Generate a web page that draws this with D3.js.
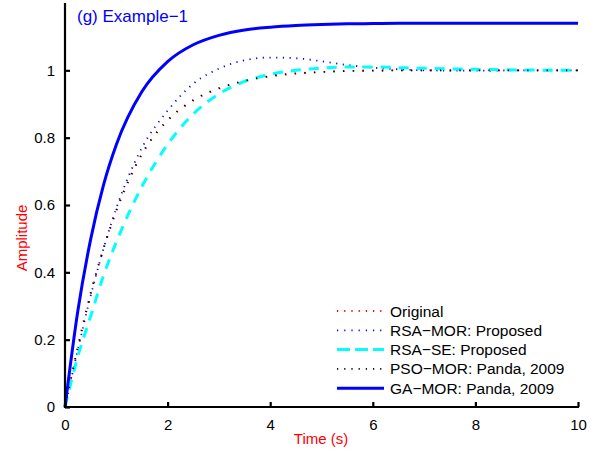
<!DOCTYPE html>
<html>
<head>
<meta charset="utf-8">
<script src="https://cdn.jsdelivr.net/npm/d3@7"></script>
<style>
body{margin:0;background:#fff;}
text{font-family:"Liberation Sans",Arial,sans-serif;}
</style>
</head>
<body>
<svg id="chart" width="599" height="457"></svg>
<script>
// time samples (s) and step responses
var timeS      = [0,0.25,0.5,0.75,1,1.5,2,2.5,3,3.5,4,4.5,5,5.5,6,6.5,7,8,9,10];
var original   = [0,0.18,0.34,0.47,0.58,0.75,0.85,0.91,0.945,0.968,0.982,0.99,0.995,0.998,0.999,1,1,1,1,1];
var rsaMor     = [0,0.17,0.33,0.47,0.59,0.77,0.88,0.96,1.005,1.03,1.038,1.036,1.027,1.016,1.008,1.003,1.0,0.999,1,1];
var rsaSe      = [0,0.15,0.27,0.39,0.49,0.655,0.78,0.87,0.93,0.967,0.988,1.0,1.007,1.01,1.01,1.008,1.006,1.003,1.001,1.0];
var psoMor     = [0,0.175,0.335,0.47,0.585,0.752,0.852,0.912,0.947,0.969,0.983,0.991,0.995,0.998,0.999,1,1,1,1,1];
var gaMor      = [0,0.285,0.498,0.659,0.779,0.937,1.026,1.076,1.104,1.12,1.128,1.133,1.136,1.138,1.139,1.14,1.14,1.14,1.14,1.14];

var seriesNames = ["Original","RSA\u2212MOR: Proposed","RSA\u2212SE: Proposed","PSO\u2212MOR: Panda, 2009","GA\u2212MOR: Panda, 2009"];
var xTicks = [0,2,4,6,8,10];
var yTicks = [0,0.2,0.4,0.6,0.8,1];

var styles = [
	{color:"#ff0000", width:1.8, dash:"1.2,8.5"},
	{color:"#0000ff", width:1.8, dash:"1.2,5.5"},
	{color:"#00ffff", width:3,   dash:"10,8"},
	{color:"#000000", width:1.8, dash:"1.2,8.5"},
	{color:"#0000ff", width:3,   dash:null}
];
var allSeries=[original,rsaMor,rsaSe,psoMor,gaMor];

var svg=d3.select("#chart");
var x=d3.scaleLinear().domain([0,10]).range([65,578]);
var y=d3.scaleLinear().domain([0,1.2]).range([407,3]);

var line=d3.line()
	.x(function(d){return x(d[0]);})
	.y(function(d){return y(d[1]);})
	.curve(d3.curveMonotoneX);

//curves
var gc=svg.append("g").attr("class","curves");
allSeries.forEach(function(vals,i)
{
	var pts=timeS.map(function(t,k){return [t,vals[k]];});
	var p=gc.append("path").attr("d",line(pts))
		.attr("fill","none")
		.attr("stroke",styles[i].color)
		.attr("stroke-width",styles[i].width);
	if(styles[i].dash) p.attr("stroke-dasharray",styles[i].dash);
});

//axes
var xAxis=d3.axisBottom(x).tickValues(xTicks).tickSize(-5).tickPadding(12).tickFormat(d3.format("d"));
var yAxis=d3.axisLeft(y).tickValues(yTicks).tickSize(-5).tickPadding(10).tickFormat(function(d){return d==0||d==1?d3.format("d")(d):d3.format(".1f")(d);});

var gx=svg.append("g").attr("transform","translate(0,407)").call(xAxis);
var gy=svg.append("g").attr("transform","translate(65,0)").call(yAxis);
[gx,gy].forEach(function(g)
{
	g.select(".domain").attr("stroke","#000").attr("stroke-width",2.2);
	g.selectAll(".tick line").attr("stroke","#000").attr("stroke-width",2.2);
	g.selectAll(".tick text").attr("font-size",15).attr("fill","#000")
		.attr("font-family","Liberation Sans, Arial, sans-serif");
});
gx.select(".domain").attr("d","M65,0H579");
gy.select(".domain").attr("d","M0,408V3");

//axis labels
svg.append("text").attr("x",321).attr("y",444).attr("text-anchor","middle")
	.attr("font-size",15).attr("fill","#ff0000").text("Time (s)");
svg.append("text").attr("transform","translate(27,238) rotate(-90)").attr("text-anchor","middle")
	.attr("font-size",15).attr("fill","#ff0000").text("Amplitude");

//title
svg.append("text").attr("x",77).attr("y",22).attr("font-size",17).attr("fill","#0000ff").text("(g) Example\u22121");

//legend
var gl=svg.append("g").attr("class","legend");
seriesNames.forEach(function(name,i)
{
	var yy=311+i*19.3;
	var l=gl.append("line").attr("x1",337).attr("x2",384).attr("y1",yy).attr("y2",yy)
		.attr("stroke",styles[i].color).attr("stroke-width",styles[i].width);
	if(styles[i].dash) l.attr("stroke-dasharray",i==2?"13,5":"1.2,6");
	gl.append("text").attr("x",390).attr("y",yy+5.5).attr("font-size",15.5).attr("fill","#000").text(name);
});
</script>
</body>
</html>
